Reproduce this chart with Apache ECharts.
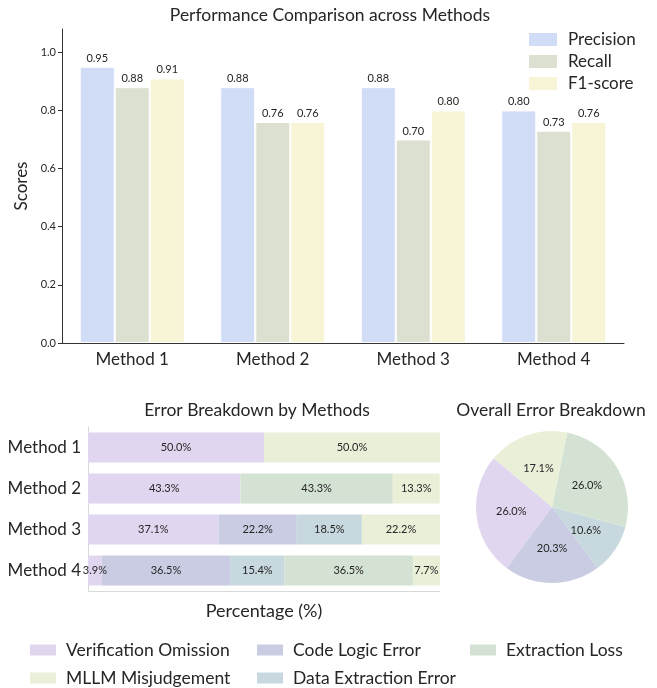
<!DOCTYPE html>
<html>
<head>
<meta charset="utf-8">
<script src="https://cdn.jsdelivr.net/npm/echarts@6/dist/echarts.min.js"></script>
<style>
  html, body { margin: 0; padding: 0; background: #fff; }
  #chart { width: 657px; height: 688px; }
</style>
</head>
<body>
<div id="chart"></div>
<script>
  // top chart
  const methods = ['Method 1', 'Method 2', 'Method 3', 'Method 4']
  const precision = [0.95, 0.88, 0.88, 0.80]
  const recall = [0.88, 0.76, 0.70, 0.73]
  const f1score = [0.91, 0.76, 0.80, 0.76]
  const scoreTicks = [0.0, 0.2, 0.4, 0.6, 0.8, 1.0]

  // error breakdown, percent per method (0 = not present)
  const errorTypes = ['Verification Omission', 'Code Logic Error', 'Data Extraction Error', 'Extraction Loss', 'MLLM Misjudgement']
  const verificationOmission = [50.0, 43.3, 37.1, 3.9]
  const codeLogicError = [0, 0, 22.2, 36.5]
  const dataExtractionError = [0, 0, 18.5, 15.4]
  const extractionLoss = [0, 43.3, 0, 36.5]
  const mllmMisjudgement = [50.0, 13.3, 22.2, 7.7]

  // overall pie
  const overallShare = [26.0, 20.3, 10.6, 26.0, 17.1]

  const font = 'Lato, "Open Sans", sans-serif'
  const ink = '#262626'
  const scoreColors = ['#d1dcf7', '#dce0d1', '#f8f4d6']
  const errorColors = {
    'Verification Omission': '#e0d6ef',
    'Code Logic Error': '#c9cce2',
    'Data Extraction Error': '#c7d8de',
    'Extraction Loss': '#d4e2d4',
    'MLLM Misjudgement': '#eaefd8'
  }

  const chart = echarts.init(document.getElementById('chart'))

  function scoreSeries(name, data, color) {
    return {
      name: name,
      type: 'bar',
      xAxisIndex: 0,
      yAxisIndex: 0,
      data: data,
      barWidth: 35,
      barGap: '0%',
      itemStyle: { color: color, borderColor: '#fff', borderWidth: 1 },
      label: {
        show: true,
        position: 'top',
        distance: 3,
        fontSize: 11,
        fontFamily: font,
        color: ink,
        formatter: p => p.value.toFixed(2)
      }
    }
  }

  const stackData = {
    'Verification Omission': verificationOmission,
    'Code Logic Error': codeLogicError,
    'Data Extraction Error': dataExtractionError,
    'Extraction Loss': extractionLoss,
    'MLLM Misjudgement': mllmMisjudgement
  }

  let series = [
    scoreSeries('Precision', precision, scoreColors[0]),
    scoreSeries('Recall', recall, scoreColors[1]),
    scoreSeries('F1-score', f1score, scoreColors[2])
  ]

  for (let name of errorTypes) {
    series.push({
      name: name,
      type: 'bar',
      stack: 'errors',
      xAxisIndex: 1,
      yAxisIndex: 1,
      barWidth: 30,
      data: stackData[name],
      itemStyle: { color: errorColors[name] },
      label: {
        show: true,
        position: 'inside',
        fontSize: 11,
        fontFamily: font,
        color: ink,
        formatter: p => (p.value > 0 ? p.value.toFixed(1) + '%' : '')
      }
    })
  }

  series.push({
    name: 'overall',
    type: 'pie',
    center: [552, 507],
    radius: 76,
    startAngle: 140,
    clockwise: false,
    silent: true,
    data: errorTypes.map((n, i) => ({ name: n, value: overallShare[i], itemStyle: { color: errorColors[n] } })),
    label: {
      show: true,
      position: 'inside',
      fontSize: 11,
      fontFamily: font,
      color: ink,
      formatter: p => p.value.toFixed(1) + '%'
    },
    labelLine: { show: false }
  })

  const titleStyle = { fontSize: 17.5, fontWeight: 'normal', color: ink, fontFamily: font }
  const legendText = { fontSize: 17.5, color: ink, fontFamily: font, padding: [0, 0, 0, 5] }

  let option = {
    backgroundColor: '#fff',
    animation: false,
    textStyle: { fontFamily: font },
    title: [
      { text: 'Performance Comparison across Methods', left: 330, top: 6, padding: 0, textAlign: 'center', textStyle: titleStyle },
      { text: 'Error Breakdown by Methods', left: 257, top: 401, padding: 0, textAlign: 'center', textStyle: titleStyle },
      { text: 'Overall Error Breakdown', left: 551, top: 401, padding: 0, textAlign: 'center', textStyle: titleStyle }
    ],
    legend: [
      { data: ['Precision', 'Recall', 'F1-score'], orient: 'vertical', left: 527, top: 31,
        icon: 'rect', itemWidth: 30, itemHeight: 15, itemGap: 5, padding: 0,
        textStyle: { fontSize: 17, color: ink, fontFamily: font, padding: [0, 0, 0, 5] } },
      { data: ['Verification Omission', 'MLLM Misjudgement'], orient: 'vertical', left: 30, top: 641,
        icon: 'rect', itemWidth: 26, itemHeight: 11, itemGap: 10, padding: 0, textStyle: legendText },
      { data: ['Code Logic Error', 'Data Extraction Error'], orient: 'vertical', left: 257, top: 641,
        icon: 'rect', itemWidth: 26, itemHeight: 11, itemGap: 10, padding: 0, textStyle: legendText },
      { data: ['Extraction Loss'], orient: 'vertical', left: 470, top: 641,
        icon: 'rect', itemWidth: 26, itemHeight: 11, itemGap: 10, padding: 0, textStyle: legendText }
    ],
    grid: [
      { left: 62, right: 33, top: 29, height: 314 },
      { left: 88, width: 352, top: 427, height: 164 }
    ],
    xAxis: [
      {
        gridIndex: 0,
        type: 'category',
        data: methods,
        axisLine: { lineStyle: { color: '#333' } },
        axisTick: { alignWithLabel: true, length: 4, lineStyle: { color: '#333' } },
        axisLabel: { fontSize: 17, color: ink, margin: 8, fontFamily: font }
      },
      {
        gridIndex: 1,
        type: 'value',
        min: 0,
        max: 100,
        name: 'Percentage (%)',
        nameLocation: 'middle',
        nameGap: 11,
        nameTextStyle: { fontSize: 18, color: ink, fontFamily: font },
        axisLine: { show: true, lineStyle: { color: '#d9d9d9' } },
        axisTick: { show: false },
        axisLabel: { show: false },
        splitLine: { show: false }
      }
    ],
    yAxis: [
      {
        gridIndex: 0,
        type: 'value',
        min: 0,
        max: 1.08,
        interval: 0.2,
        name: 'Scores',
        nameLocation: 'middle',
        nameGap: 31,
        nameTextStyle: { fontSize: 17, color: ink, fontFamily: font },
        axisLine: { show: true, lineStyle: { color: '#333' } },
        axisTick: { show: true, length: 4, lineStyle: { color: '#333' } },
        axisLabel: {
          fontSize: 11, color: ink, margin: 6, fontFamily: font, showMaxLabel: false,
          formatter: v => (scoreTicks.some(t => Math.abs(t - v) < 1e-6) ? v.toFixed(1) : '')
        },
        splitLine: { show: false }
      },
      {
        gridIndex: 1,
        type: 'category',
        data: methods,
        inverse: true,
        axisLine: { show: true, lineStyle: { color: '#d9d9d9' } },
        axisTick: { show: false },
        axisLabel: { fontSize: 17, color: ink, margin: 7, fontFamily: font }
      }
    ],
    series: series
  }

  chart.setOption(option)
</script>
</body>
</html>
